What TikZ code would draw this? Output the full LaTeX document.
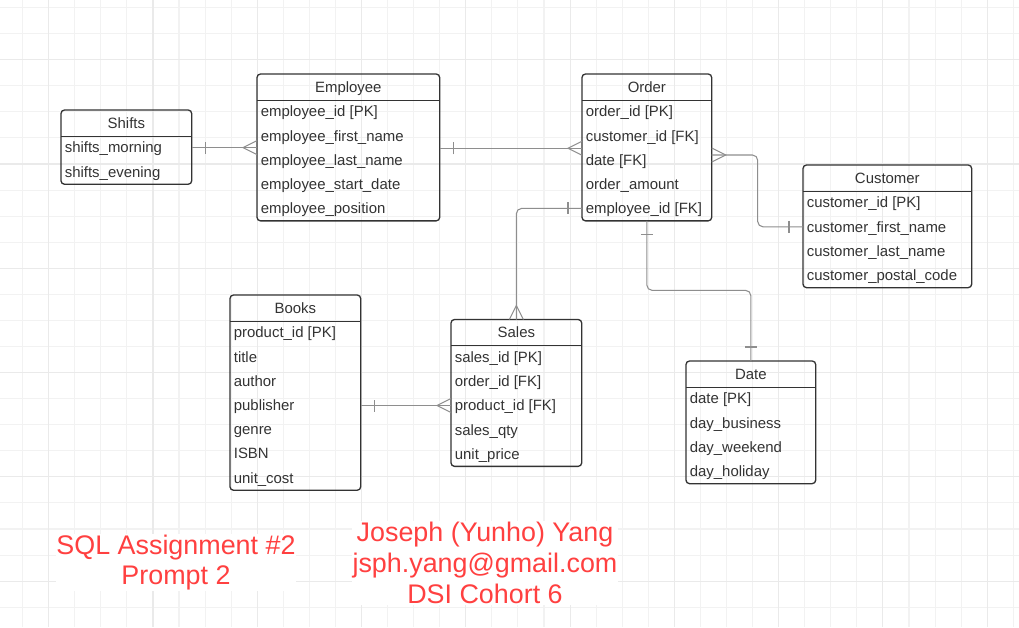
\documentclass[tikz,border=0pt]{standalone}
\usepackage{fontspec}
\setmainfont{Liberation Sans}
\usetikzlibrary{positioning,calc}

\definecolor{ink}{HTML}{333333}
\definecolor{wirecol}{HTML}{8E8E8E}
\definecolor{gridminor}{HTML}{F2F2F2}
\definecolor{gridmajor}{HTML}{EAEAEA}
\definecolor{notecol}{HTML}{FF4040}

\tikzset{
  head/.style={anchor=north west, inner sep=0pt, minimum height=0.51cm, text=ink,
    text height=8pt, text depth=1.9pt, font=\fontsize{8.5}{10}\selectfont},
  field/.style={anchor=west, inner xsep=3.5*0.02cm, inner ysep=0pt, minimum height=24.2*0.02cm,
    text=ink, text height=8pt, text depth=1.9pt, font=\fontsize{8.5}{10}\selectfont},
  box/.style={draw=ink, line width=0.75pt, rounded corners=2pt},
  wire/.style={draw=wirecol, line width=0.6pt},
  crow/.pic={\draw[wire] (0,7) -- (-14,0) -- (0,-7);},
  bar/.pic={\draw[wire] (-14,-6) -- (-14,6);},
  note/.style={text=notecol, align=center, fill=white, inner sep=0.5pt,
    font=\fontsize{15.3}{17.6}\selectfont}
}

% name, x, y, width, title, fields
\newcommand{\ertable}[6]{
  \node[head, minimum width={#4*0.02cm}] (#1) at (#2,#3) {#5};
  \foreach \f [count=\i] in {#6} {
    \pgfmathsetmacro\rowy{#3+25.5+(\i-0.5)*24.2}
    \node[field] (#1-\i) at (#2,\rowy) {\f};
    \xdef\lastrow{\i}
  }
  \draw[box] (#1.north west) rectangle (#1.east |- #1-\lastrow.south);
  \draw[draw=ink, line width=0.75pt] (#1.south west) -- (#1.south east);
}

\begin{document}
\begin{tikzpicture}[x=0.02cm, y=-0.02cm]
\fill[white] (0,0) rectangle (1019,627);
\useasboundingbox (0,0) rectangle (1019,627);

% grid
\foreach \k in {0,...,38}
  \draw[gridminor, line width=0.6pt] ({22.6+\k*26.07},0) -- ({22.6+\k*26.07},627);
\foreach \k in {0,...,23}
  \draw[gridminor, line width=0.6pt] (0,{7.6+\k*26.07}) -- (1019,{7.6+\k*26.07});
\foreach \k in {0,...,9}
  \draw[gridmajor, line width=0.6pt] ({48.7+\k*104.28},0) -- ({48.7+\k*104.28},627);
\foreach \k in {0,...,5}
  \draw[gridmajor, line width=0.6pt] (0,{59.7+\k*104.28}) -- (1019,{59.7+\k*104.28});

% tables
\ertable{shifts}{61}{110}{130}{Shifts}{shifts\_morning, shifts\_evening}
\ertable{emp}{257}{74}{182}{Employee}{employee\_id [PK], employee\_first\_name,
  employee\_last\_name, employee\_start\_date, employee\_position}
\ertable{ord}{582}{74}{129}{Order}{order\_id [PK], customer\_id [FK], date [FK],
  order\_amount, employee\_id [FK]}
\ertable{cust}{803}{165}{168}{Customer}{customer\_id [PK], customer\_first\_name,
  customer\_last\_name, customer\_postal\_code}
\ertable{books}{230}{295}{130}{Books}{product\_id [PK], title, author, publisher,
  genre, ISBN, unit\_cost}
\ertable{sales}{451}{319.5}{130}{Sales}{sales\_id [PK], order\_id [FK],
  product\_id [FK], sales\_qty, unit\_price}
\ertable{date}{686}{361}{129}{Date}{date [PK], day\_business, day\_weekend,
  day\_holiday}

% relations
\draw[wire] (shifts.east |- shifts-1) -- (emp.west |- shifts-1);
\path (shifts.east |- shifts-1) pic[rotate=180]{bar} (emp.west |- shifts-1) pic{crow};

\draw[wire] (emp.east |- emp-2.south) -- (ord.west |- emp-2.south);
\path (emp.east |- emp-2.south) pic[rotate=180]{bar} (ord.west |- emp-2.south) pic{crow};

\coordinate (oc) at ($(ord.east |- ord-3)+(0,-5)$);
\draw[wire, rounded corners=3] (oc) -- ++(46,0) |- (cust.west |- cust-2);
\path (oc) pic[rotate=180]{crow} (cust.west |- cust-2) pic{bar};

\draw[wire, rounded corners=3] (ord-5.west) -| (sales.north);
\path (ord-5.west) pic{bar} (sales.north) pic[rotate=-90]{crow};

\coordinate (od) at (ord.south |- ord-5.south);
\draw[wire, rounded corners=3] (od) -- ++(0,69.5) -| (date.north);
\path (od) pic[rotate=90]{bar} (date.north) pic[rotate=-90]{bar};

\draw[wire] (books.east |- sales-3) -- (sales-3.west);
\path (books.east |- sales-3) pic[rotate=180]{bar} (sales-3.west) pic{crow};

% notes
\node[note] (title) at (176,562.5) {SQL Assignment \#2\\Prompt 2};
\node[note] (author) at (485,563) {Joseph (Yunho) Yang\\jsph.yang@gmail.com\\DSI Cohort 6};
\end{tikzpicture}
\end{document}
